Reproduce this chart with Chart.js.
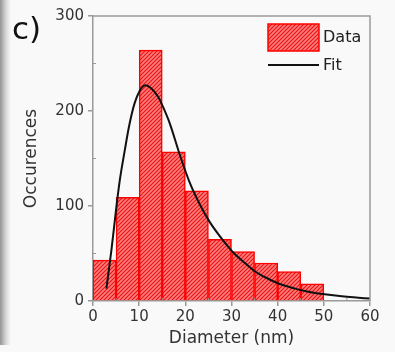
<!DOCTYPE html>
<html><head><meta charset="utf-8">
<script src="https://cdn.jsdelivr.net/npm/chart.js@4"></script>
<style>
html,body{margin:0;padding:0;background:#f9f9f9;}
#wrap{position:relative;width:395px;height:352px;overflow:hidden;background:#f9f9f9;}
#shadow{position:absolute;left:0;top:0;width:11px;height:345px;background:linear-gradient(to right, rgba(130,130,130,0.85), rgba(185,185,185,0.5) 55%, rgba(249,249,249,0));}
#lbl{position:absolute;left:12px;top:10px;font:31px "DejaVu Sans";color:#111;line-height:36px;}
canvas{position:absolute;left:0;top:0;}
</style></head>
<body><div id="wrap"><div id="shadow"></div><canvas id="c" width="395" height="352"></canvas><div id="lbl">c)</div></div>
<script>
// Histogram bins (start of each 5 nm bin) and counts
const binStarts = [0, 5, 10, 15, 20, 25, 30, 35, 40, 45];
const binSize = 5;
const counts = [43, 109, 264, 157, 116, 65, 52, 40, 31, 18];
// Fit curve
const fitX = [2.9, 4.0, 4.9, 5.8, 6.9, 7.9, 9.0, 10.1, 11.2, 12.6, 14.1, 15.2, 16.7, 18.8, 21.0, 23.2, 25.3, 27.5, 29.3, 30.8, 32.9, 35.1, 37.3, 39.4, 41.6, 43.8, 45.9, 48.1, 50.2, 53.9, 57.5, 60];
const fitY = [13, 54, 92, 127, 159, 186, 208, 221, 227, 224, 215, 204, 186, 154, 124, 101, 83, 68, 57, 49, 40, 31, 25, 20, 16, 13, 10.5, 8.5, 7, 5, 3.5, 2.5];
const xTickValues = [0, 10, 20, 30, 40, 50, 60];
const yTickValues = [0, 100, 200, 300];
const legendLabels = ['Data', 'Fit'];

function hatch() {
  const c = document.createElement('canvas');
  c.width = 4; c.height = 4;
  const g = c.getContext('2d');
  g.fillStyle = 'rgb(255,125,125)';
  g.fillRect(0, 0, 4, 4);
  g.strokeStyle = 'rgb(232,20,20)';
  g.lineWidth = 1.1;
  g.beginPath();
  g.moveTo(-1, 5); g.lineTo(5, -1);
  g.moveTo(-1, 1); g.lineTo(1, -1);
  g.moveTo(3, 5); g.lineTo(5, 3);
  g.stroke();
  return g.createPattern(c, 'repeat');
}
const ctx = document.getElementById('c').getContext('2d');
const pat = hatch();
const FONT = 'DejaVu Sans';

const framePlugin = {
  id: 'frame',
  afterDatasetsDraw(chart) {
    const {ctx, chartArea: a, scales} = chart;
    ctx.save();
    ctx.strokeStyle = '#9a9a9a';
    ctx.lineWidth = 1.5;
    ctx.beginPath();
    ctx.moveTo(a.left, a.top); ctx.lineTo(a.right, a.top); ctx.lineTo(a.right, a.bottom);
    ctx.stroke();
    // minor ticks
    ctx.lineWidth = 1;
    ctx.beginPath();
    for (let v = 5; v < 60; v += 10) {
      const px = scales.x.getPixelForValue(v);
      ctx.moveTo(px, a.bottom); ctx.lineTo(px, a.bottom - 3);
    }
    for (let v = 50; v < 300; v += 100) {
      const py = scales.y.getPixelForValue(v);
      ctx.moveTo(a.left, py); ctx.lineTo(a.left + 3, py);
    }
    ctx.stroke();
    // legend
    const bx = a.right - 102, by = a.top + 8, bw = 51, bh = 27;
    ctx.fillStyle = pat;
    ctx.fillRect(bx, by, bw, bh);
    ctx.strokeStyle = 'rgb(255,0,0)';
    ctx.lineWidth = 1.5;
    ctx.strokeRect(bx, by, bw, bh);
    ctx.strokeStyle = '#111';
    ctx.lineWidth = 2;
    ctx.beginPath();
    ctx.moveTo(bx, by + 41); ctx.lineTo(bx + bw, by + 41);
    ctx.stroke();
    ctx.fillStyle = '#222';
    ctx.font = '16px "' + FONT + '"';
    ctx.textAlign = 'left';
    ctx.textBaseline = 'middle';
    ctx.fillText(legendLabels[0], bx + bw + 4, by + bh / 2);
    ctx.fillText(legendLabels[1], bx + bw + 4, by + 42);
    ctx.restore();
  }
};

new Chart(ctx, {
  type: 'bar',
  data: {
    datasets: [
      {
        type: 'line',
        label: legendLabels[1],
        data: fitX.map((x, i) => ({x: x, y: fitY[i]})),
        borderColor: '#111',
        borderWidth: 2,
        pointRadius: 0,
        tension: 0.35,
        fill: false,
        order: 0
      },
      {
        type: 'bar',
        label: legendLabels[0],
        data: binStarts.map((s, i) => ({x: s + binSize / 2, y: counts[i]})),
        backgroundColor: pat,
        borderColor: 'rgb(255,0,0)',
        borderWidth: 1.5,
        barPercentage: 1,
        categoryPercentage: 1,
        order: 1
      }
    ]
  },
  options: {
    responsive: false,
    animation: false,
    devicePixelRatio: 1,
    layout: {padding: {top: 16, right: 25, left: 0, bottom: 0}},
    plugins: {legend: {display: false}, title: {display: false}, tooltip: {enabled: false}},
    scales: {
      x: {
        type: 'linear', min: 0, max: 60, offset: false,
        afterBuildTicks(s) { s.ticks = xTickValues.map(v => ({value: v})); },
        ticks: {color: '#333', font: {family: FONT, size: 15}, padding: 2, maxRotation: 0, autoSkip: false},
        grid: {display: true, drawOnChartArea: false, drawTicks: true, tickLength: 5, color: '#9a9a9a', offset: false, lineWidth: 1.5},
        border: {display: true, color: '#9a9a9a', width: 1.5},
        title: {display: true, text: 'Diameter (nm)', color: '#333', font: {family: FONT, size: 17}, padding: {top: 0, bottom: 3}},
        afterFit(s) { s.height = 51; }
      },
      y: {
        type: 'linear', min: 0, max: 300,
        afterBuildTicks(s) { s.ticks = yTickValues.map(v => ({value: v})); },
        ticks: {color: '#333', font: {family: FONT, size: 15}, padding: 4, autoSkip: false},
        grid: {display: true, drawOnChartArea: false, drawTicks: true, tickLength: 5, color: '#9a9a9a', lineWidth: 1.5},
        border: {display: true, color: '#9a9a9a', width: 1.5},
        title: {display: true, text: 'Occurences', color: '#333', font: {family: FONT, size: 17}, padding: {top: 21, bottom: 0}},
        afterFit(s) { s.width = 93; }
      }
    }
  },
  plugins: [framePlugin]
});
</script>
</body></html>
